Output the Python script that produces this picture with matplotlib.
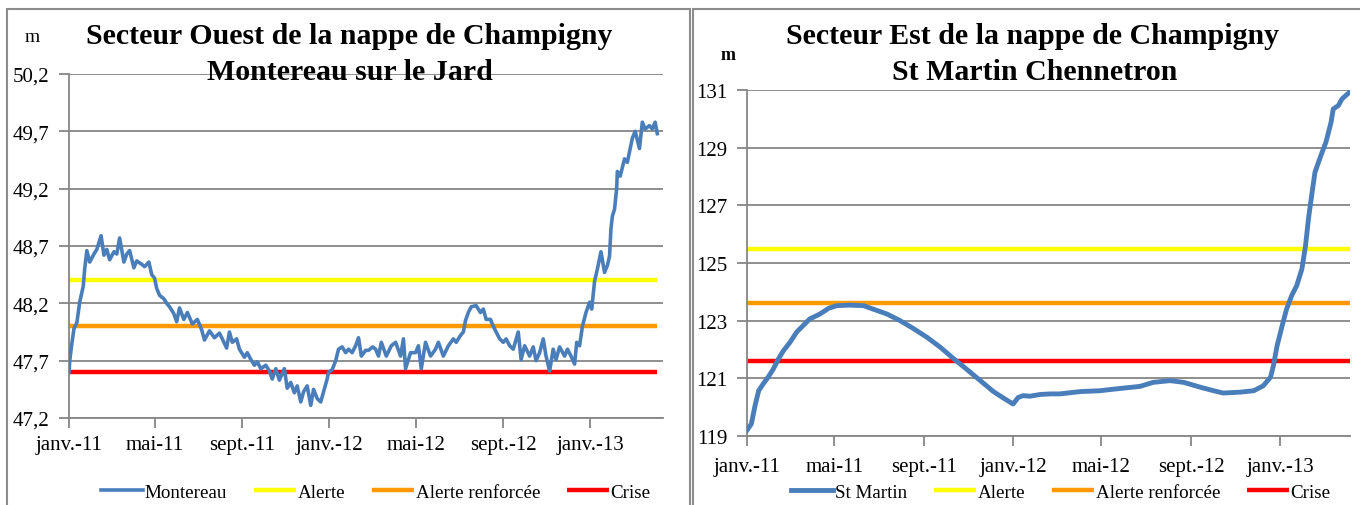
import matplotlib
matplotlib.use("Agg")
import matplotlib.pyplot as plt
from matplotlib.patches import Rectangle
from matplotlib.ticker import FixedLocator, FixedFormatter
import pandas as pd

plt.rcParams['font.family'] = ['Liberation Serif', 'DejaVu Serif']

debut = pd.Timestamp("2011-01-01")

# Montereau sur le Jard : jours depuis le 01/01/2011 et niveau (m)
jours_ouest = [0, 1, 4, 7, 11, 15, 20, 22, 25, 29, 35, 39, 45, 49, 53, 57, 63, 67, 71, 77,
               81, 85, 91, 95, 102, 106, 112, 116, 120, 123, 127, 133, 137, 141, 147, 151, 155, 161, 166, 173,
               180, 186, 190, 197, 204, 211, 215, 221, 225, 229, 235, 239, 246, 250, 255, 260, 264, 269, 276, 281,
               285, 290, 295, 302, 306, 311, 316, 320, 325, 329, 334, 339, 343, 348, 353, 357, 362, 364, 369, 374,
               378, 383, 388, 392, 397, 402, 406, 410, 416, 420, 426, 430, 434, 438, 445, 452, 458, 465, 469, 472,
               479, 486, 490, 494, 500, 507, 514, 518, 525, 532, 539, 543, 549, 553, 556, 560, 564, 571, 577, 581,
               585, 591, 595, 599, 604, 609, 613, 618, 623, 630, 634, 639, 646, 651, 655, 660, 665, 669, 674, 679,
               683, 688, 695, 699, 704, 709, 712, 716, 720, 725, 730, 733, 737, 741, 746, 751, 755, 758, 760, 762,
               765, 768, 769, 773, 779, 783, 787, 790, 794, 800, 804, 808, 814, 818, 822, 825]
niveau_ouest = [47.60, 47.70, 47.85, 47.98, 48.03, 48.21, 48.35, 48.50, 48.66, 48.56, 48.63, 48.67, 48.79, 48.62, 48.67, 48.58, 48.65, 48.63, 48.77, 48.56,
                48.63, 48.66, 48.51, 48.57, 48.54, 48.52, 48.56, 48.45, 48.42, 48.33, 48.27, 48.24, 48.20, 48.17, 48.11, 48.04, 48.16, 48.06, 48.12, 48.02,
                48.06, 47.97, 47.88, 47.96, 47.90, 47.94, 47.89, 47.81, 47.95, 47.86, 47.89, 47.80, 47.73, 47.77, 47.71, 47.66, 47.69, 47.63, 47.66, 47.61,
                47.54, 47.63, 47.53, 47.63, 47.46, 47.51, 47.42, 47.48, 47.34, 47.43, 47.48, 47.31, 47.45, 47.37, 47.34, 47.43, 47.54, 47.60, 47.62, 47.70,
                47.80, 47.82, 47.77, 47.80, 47.77, 47.83, 47.90, 47.74, 47.79, 47.79, 47.82, 47.80, 47.74, 47.86, 47.74, 47.83, 47.86, 47.74, 47.89, 47.63,
                47.77, 47.77, 47.83, 47.63, 47.86, 47.74, 47.80, 47.86, 47.74, 47.83, 47.89, 47.86, 47.92, 47.95, 48.05, 48.12, 48.17, 48.18, 48.12, 48.15,
                48.06, 48.06, 48.00, 47.95, 47.89, 47.86, 47.89, 47.83, 47.80, 47.95, 47.71, 47.83, 47.74, 47.82, 47.70, 47.77, 47.89, 47.74, 47.61, 47.80,
                47.71, 47.82, 47.74, 47.80, 47.74, 47.67, 47.86, 47.83, 48.00, 48.12, 48.21, 48.15, 48.39, 48.50, 48.65, 48.47, 48.53, 48.61, 48.85, 48.96,
                49.02, 49.20, 49.35, 49.31, 49.46, 49.43, 49.55, 49.64, 49.70, 49.55, 49.78, 49.72, 49.75, 49.72, 49.78, 49.68]

# St Martin Chennetron
jours_est = [0, 6, 11, 16, 22, 29, 36, 43, 50, 59, 68, 77, 86, 100, 112, 123, 141, 160, 173, 192,
             210, 228, 247, 265, 283, 301, 320, 338, 352, 365, 372, 379, 388, 402, 416, 429, 457, 484, 512, 539,
             557, 580, 599, 622, 640, 653, 676, 695, 708, 718, 722, 727, 734, 740, 747, 754, 761, 766, 770, 775,
             779, 787, 794, 801, 804, 811, 816, 827]
niveau_est = [119.20, 119.42, 120.05, 120.57, 120.80, 121.04, 121.32, 121.67, 121.96, 122.25, 122.60, 122.83, 123.06, 123.23, 123.43, 123.52, 123.54, 123.52, 123.40, 123.23,
              123.00, 122.73, 122.42, 122.08, 121.69, 121.32, 120.92, 120.54, 120.31, 120.11, 120.34, 120.40, 120.38, 120.44, 120.46, 120.46, 120.54, 120.57, 120.65, 120.72,
              120.86, 120.92, 120.86, 120.69, 120.57, 120.49, 120.52, 120.57, 120.74, 121.04, 121.44, 122.13, 122.83, 123.40, 123.87, 124.22, 124.79, 125.60, 126.53, 127.45,
              128.15, 128.72, 129.19, 129.88, 130.34, 130.46, 130.69, 130.94]

# seuils (m)
alerte_ouest, renforcee_ouest, crise_ouest = 48.4, 48.0, 47.6
alerte_est, renforcee_est, crise_est = 125.5, 123.6, 121.6

mois = ["janv.-11", "mai-11", "sept.-11", "janv.-12", "mai-12", "sept.-12", "janv.-13"]
dates_mois = pd.date_range("2011-01-01", periods=len(mois), freq="4MS")

yticks_ouest = [47.2, 47.7, 48.2, 48.7, 49.2, 49.7, 50.2]
yticks_est = [119, 121, 123, 125, 127, 129, 131]

bleu = "#4a7ebb"
jaune = "#ffff00"
orange = "#ff9900"
rouge = "#ff0000"
gris = "#868686"

W, H = 1360, 506
fig = plt.figure(figsize=(W / 100, H / 100), dpi=100)

def box(x0, y0, x1, y1):
    return [x0 / W, 1 - y1 / H, (x1 - x0) / W, (y1 - y0) / H]

# cadres des deux graphiques
for x0, x1 in [(7, 690), (693, 1365)]:
    fig.add_artist(Rectangle((x0 / W, -0.05), (x1 - x0) / W, 1.05 - 10 / H,
                             transform=fig.transFigure, fill=False,
                             edgecolor="#8c8c8c", lw=1.5))


def trace(ax, jours, niveau, seuils, nom, lw_serie, yticks, ylabels, xfin, xpad):
    x = debut + pd.to_timedelta(jours, unit="D")
    ax.plot(x, niveau, color=bleu, lw=lw_serie, label=nom, zorder=3)
    couleurs = [jaune, orange, rouge]
    noms = ["Alerte", "Alerte renforcée", "Crise"]
    for s, c, n in zip(seuils, couleurs, noms):
        ax.plot([x[0], x[-1]], [s, s], color=c, lw=3.2, label=n, zorder=2,
                solid_capstyle="butt")
    ax.set_xlim(debut, debut + pd.Timedelta(days=xfin))
    ax.set_ylim(yticks[0], yticks[-1])
    ax.yaxis.set_major_locator(FixedLocator(yticks))
    ax.yaxis.set_major_formatter(FixedFormatter(ylabels))
    ax.xaxis.set_major_locator(FixedLocator([(d - pd.Timestamp("1970-01-01")).days for d in dates_mois]))
    ax.xaxis.set_major_formatter(FixedFormatter(mois))
    ax.grid(axis="y", color=gris, lw=1.3)
    ax.set_axisbelow(True)
    for s in ["top", "right"]:
        ax.spines[s].set_visible(False)
    for s in ["left", "bottom"]:
        ax.spines[s].set_color(gris)
        ax.spines[s].set_linewidth(1.3)
    ax.tick_params(axis="both", colors=gris, length=7, width=1.3, labelcolor="black",
                   labelsize=15)
    ax.tick_params(axis="x", pad=xpad)
    ax.tick_params(axis="y", pad=7)
    return ax


ax1 = fig.add_axes(box(69, 75, 663, 419))
trace(ax1, jours_ouest, niveau_ouest, [alerte_ouest, renforcee_ouest, crise_ouest],
      "Montereau", 2.6, yticks_ouest, [f"{v:.1f}".replace(".", ",") for v in yticks_ouest], 833, 5)
ax2 = fig.add_axes(box(747, 91, 1350, 437))
trace(ax2, jours_est, niveau_est, [alerte_est, renforcee_est, crise_est],
      "St Martin", 3.5, yticks_est, [str(v) for v in yticks_est], 827, 8)

titre = dict(ha="center", va="center", fontsize=21.5, fontweight="bold")
fig.text(349 / W, 1 - 37 / H, "Secteur Ouest de la nappe de Champigny", **titre)
fig.text(350 / W, 1 - 72 / H, "Montereau sur le Jard", **titre)
fig.text(1032 / W, 1 - 37 / H, "Secteur Est de la nappe de Champigny", **titre)
fig.text(1035 / W, 1 - 72 / H, "St Martin Chennetron", **titre)
fig.text(32 / W, 1 - 38 / H, "m", ha="center", va="center", fontsize=14)
fig.text(728 / W, 1 - 55 / H, "m", ha="center", va="center", fontsize=13, fontweight="bold")

for ax, cx in [(ax1, 376), (ax2, 1061)]:
    h, l = ax.get_legend_handles_labels()
    fig.legend(h, l, loc="center", bbox_to_anchor=(cx / W, 1 - 493 / H), ncol=4, frameon=False,
               fontsize=13.7, handlelength=2.2, columnspacing=1.4, handletextpad=0.1)

fig.savefig("out.png", dpi=100)
